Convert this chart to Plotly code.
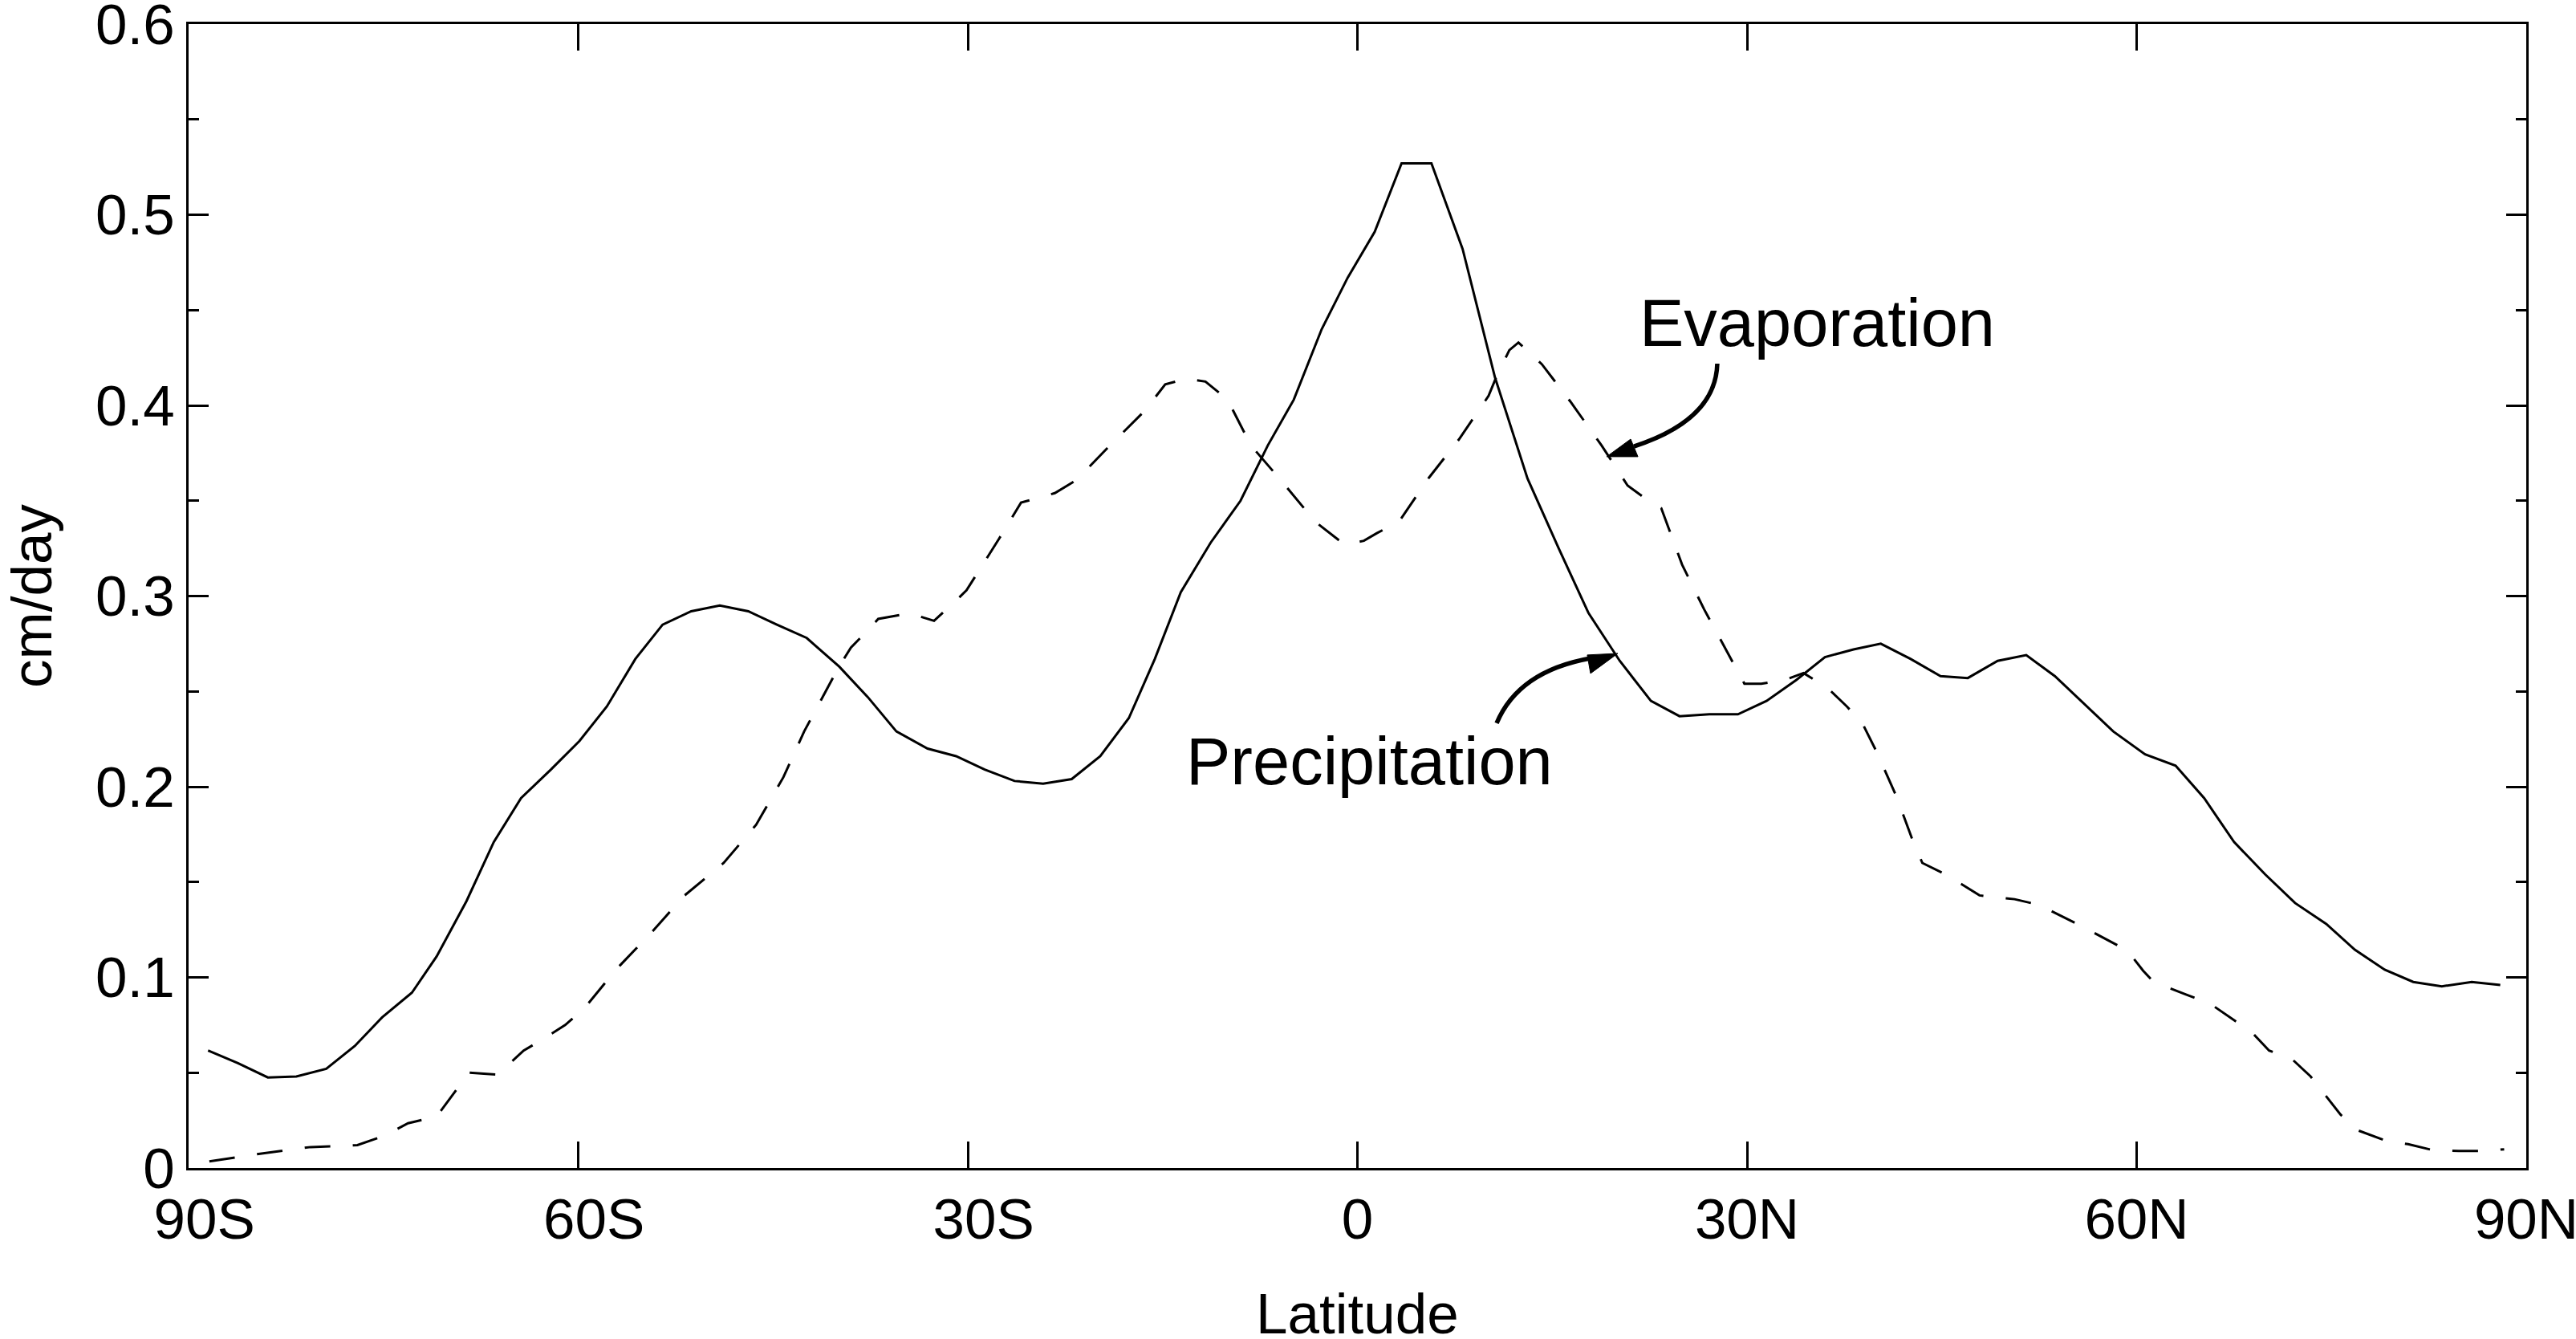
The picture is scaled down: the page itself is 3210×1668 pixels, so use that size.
import plotly.graph_objects as go

# --------------------------
# Zonal mean data (cm/day vs latitude)
# --------------------------
lat_precip = [-88.5, -86.2, -83.9, -81.7, -79.4, -77.2, -75.1, -72.8, -70.9, -68.6,
              -66.5, -64.4, -62.1, -59.9, -57.8, -55.6, -53.5, -51.3, -49.1, -46.9,
              -44.7, -42.4, -39.9, -37.7, -35.5, -33.1, -30.9, -28.7, -26.4, -24.2,
              -22.0, -19.8, -17.6, -15.6, -13.6, -11.3, -9.0, -6.9, -4.9, -2.75,
              -0.75, 1.33, 3.4, 5.7, 8.1, 10.6, 13.1, 15.5, 17.8, 20.2,
              22.6, 24.8, 27.1, 29.3, 31.5, 33.8, 36.0, 38.2, 40.3, 42.6,
              44.9, 47.0, 49.3, 51.5, 53.7, 56.0, 58.2, 60.65, 63.0, 65.2,
              67.5, 69.9, 72.2, 74.6, 76.8, 79.1, 81.3, 83.5, 85.8, 88.0]
precip = [0.0616, 0.055, 0.0475, 0.048, 0.052, 0.064, 0.079, 0.092, 0.111, 0.140,
          0.171, 0.194, 0.209, 0.224, 0.242, 0.267, 0.285, 0.292, 0.295, 0.292,
          0.285, 0.278, 0.263, 0.247, 0.229, 0.220, 0.216, 0.209, 0.203, 0.2016,
          0.204, 0.216, 0.236, 0.267, 0.302, 0.328, 0.350, 0.379, 0.403, 0.440,
          0.467, 0.491, 0.527, 0.527, 0.482, 0.4145, 0.3616, 0.325, 0.291, 0.266,
          0.245, 0.237, 0.238, 0.238, 0.245, 0.256, 0.268, 0.272, 0.275, 0.267,
          0.258, 0.257, 0.266, 0.269, 0.258, 0.243, 0.229, 0.217, 0.211, 0.194,
          0.171, 0.154, 0.139, 0.128, 0.1145, 0.104, 0.0976, 0.0953, 0.0976, 0.096]

lat_evap = [-88.4, -84.5, -80.6, -77.0, -74.9, -73.1, -70.9, -68.4, -66.2, -64.2,
            -62.6, -61.0, -59.5, -57.1, -54.3, -51.8, -48.8, -46.3, -44.2, -42.6,
            -40.0, -39.0, -37.7, -36.9, -34.5, -32.6, -31.0, -30.1, -27.6, -25.9,
            -23.3, -21.6, -19.2, -16.4, -14.8, -13.2, -11.7, -10.0, -8.2, -5.8,
            -3.25, -1.0, 0.5, 1.5, 3.2, 5.5, 7.8, 10.1, 10.7, 11.7,
            12.4, 14.2, 16.4, 18.8, 20.8, 22.2, 23.4, 25.0, 26.7, 28.7,
            29.8, 31.1, 32.9, 34.35, 36.2, 37.7, 38.9, 40.0, 41.5, 42.8,
            43.5, 45.3, 47.9, 50.6, 52.5, 56.0, 59.3, 60.5, 61.3, 63.8,
            65.7, 68.9, 70.2, 72.0, 73.4, 75.7, 77.1, 79.1, 80.9, 82.8,
            84.8, 86.7, 88.3]
evap = [0.0035, 0.0075, 0.011, 0.012, 0.017, 0.0235, 0.027, 0.050, 0.049, 0.0616,
        0.068, 0.075, 0.084, 0.104, 0.124, 0.143, 0.160, 0.180, 0.205, 0.229,
        0.262, 0.273, 0.282, 0.288, 0.291, 0.287, 0.297, 0.303, 0.330, 0.349,
        0.354, 0.361, 0.378, 0.397, 0.411, 0.414, 0.4125, 0.403, 0.379, 0.360,
        0.339, 0.327, 0.329, 0.333, 0.339, 0.362, 0.382, 0.405, 0.415, 0.429,
        0.433, 0.4216, 0.402, 0.379, 0.358, 0.351, 0.346, 0.3165, 0.293, 0.268,
        0.254, 0.254, 0.256, 0.2596, 0.2518, 0.242, 0.233, 0.218, 0.195, 0.171,
        0.160, 0.154, 0.143, 0.141, 0.138, 0.126, 0.114, 0.1035, 0.0976, 0.091,
        0.086, 0.071, 0.0616, 0.0569, 0.048, 0.028, 0.0196, 0.0145, 0.0125, 0.0094,
        0.009, 0.009, 0.0098]

x_ticks = [-90, -60, -30, 0, 30, 60, 90]
x_labels = ["\u00a0\u00a090S", "\u00a0\u00a060S", "\u00a0\u00a030S", "0", "30N", "60N", "90N"]
y_ticks = [0, 0.1, 0.2, 0.3, 0.4, 0.5, 0.6]
y_labels = ["0", "0.1", "0.2", "0.3", "0.4", "0.5", "0.6"]

FONT = "Liberation Sans, Arial, Helvetica, sans-serif"

fig = go.Figure()
fig.add_trace(go.Scatter(x=lat_precip, y=precip, mode="lines", name="Precipitation",
                         line=dict(color="black", width=3)))
fig.add_trace(go.Scatter(x=lat_evap, y=evap, mode="lines", name="Evaporation",
                         line=dict(color="black", width=3, dash="32px,28px")))

# --------------------------
# Labels with curved arrows
# --------------------------
fig.add_annotation(x=35.43, y=0.4432, text="Evaporation", showarrow=False,
                   font=dict(size=83, color="black"), xanchor="center", yanchor="middle")
fig.add_annotation(x=0.95, y=0.2133, text="Precipitation", showarrow=False,
                   font=dict(size=83, color="black"), xanchor="center", yanchor="middle")

arrow_line = dict(color="black", width=5.5)
fig.add_shape(type="path", xref="x", yref="y", line=arrow_line,
              path="M 27.71,0.4219 Q 27.59,0.3924 21.29,0.3785")
fig.add_shape(type="path", xref="x", yref="y", line=dict(color="black", width=1),
              fillcolor="black", path="M 19.19,0.3731 L 21.04,0.3823 L 21.60,0.3731 Z")
fig.add_shape(type="path", xref="x", yref="y", line=arrow_line,
              path="M 10.72,0.2333 Q 12.39,0.2606 17.95,0.2674")
fig.add_shape(type="path", xref="x", yref="y", line=dict(color="black", width=1),
              fillcolor="black", path="M 20.05,0.2699 L 17.70,0.2691 L 17.95,0.2594 Z")

# x-axis title as a paper annotation so it can sit close to the bottom edge
fig.add_annotation(x=0.5, y=-0.098, xref="paper", yref="paper", text="Latitude",
                   showarrow=False, font=dict(size=71, color="black"),
                   xanchor="center", yanchor="top")

fig.update_layout(
    width=3210, height=1668,
    margin=dict(l=235, r=62, t=30, b=213, autoexpand=False),
    paper_bgcolor="white", plot_bgcolor="white",
    showlegend=False,
    font=dict(family=FONT, color="black", size=71),
)
fig.update_xaxes(
    range=[-90, 90], tickmode="array", tickvals=x_ticks, ticktext=x_labels,
    ticks="inside", ticklen=33, tickwidth=3, tickcolor="black",
    showline=True, linewidth=3, linecolor="black", mirror="allticks",
    showgrid=False, zeroline=False, tickfont=dict(size=71),
    ticklabeloverflow="allow", automargin=False,
)
fig.update_yaxes(
    range=[0, 0.6], tickmode="array", tickvals=y_ticks, ticktext=y_labels,
    ticks="inside", ticklen=25, tickwidth=3, tickcolor="black",
    minor=dict(tick0=0, dtick=0.05, ticks="inside", ticklen=13, tickwidth=3,
               tickcolor="black"),
    showline=True, linewidth=3, linecolor="black", mirror="allticks",
    showgrid=False, zeroline=False, tickfont=dict(size=71), ticklabelstandoff=0,
    ticklabeloverflow="allow", automargin=False,
    title=dict(text="cm/day", font=dict(size=71), standoff=34),
)

fig.write_html("out.html", config={"displayModeBar": False},
               post_script="document.body.style.margin='0';")
